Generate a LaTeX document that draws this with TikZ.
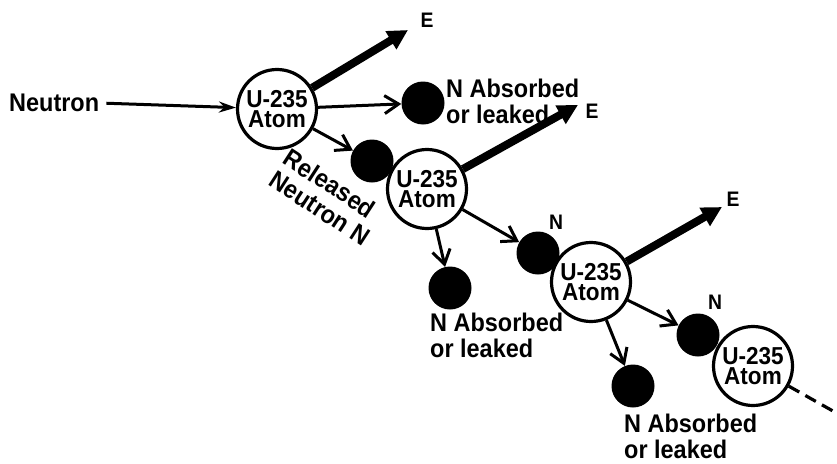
\documentclass[tikz,border=0pt]{standalone}
\usepackage{fontspec}
\setmainfont{Liberation Sans}[FakeStretch=0.92]
\usetikzlibrary{arrows.meta}
\begin{document}
\begin{tikzpicture}[x=1pt,y=-1pt,
  atom/.style={circle,draw,line width=3.2pt,fill=white,minimum size=79pt,inner sep=0pt,align=center,font=\bfseries\fontsize{24.5}{20}\selectfont},
  ball/.style={circle,fill=black,minimum size=43pt,inner sep=0pt},
  lab/.style={inner sep=0pt,align=left,font=\bfseries\fontsize{25.5}{26}\selectfont},
  smalllab/.style={inner sep=0pt,font=\bfseries\fontsize{21}{22}\selectfont},
  narrowarrow/.style={line width=3pt,-{Straight Barb[length=14pt,width=18pt,line width=3pt]}},
  feedarrow/.style={line width=3pt,-{Stealth[length=17pt,width=11pt]}},
  earrow/.style={line width=8pt,-{Triangle[length=20pt,width=20pt]}},
  tailline/.style={line width=3.2pt,dash pattern=on 12pt off 7pt},
]
\useasboundingbox (0,0) rectangle (837,463);
% atoms
\node[atom] (a1) at (277,109) {U-235\\Atom};
\node[atom] (a2) at (427,189) {U-235\\Atom};
\node[atom] (a3) at (591,282) {U-235\\Atom};
\node[atom] (a4) at (753,366) {U-235\\Atom};
% neutrons
\node[ball] (x1) at (423,103) {};
\node[ball] (r1) at (372,161) {};
\node[ball] (n2) at (538,253) {};
\node[ball] (x2) at (450,288) {};
\node[ball] (n3) at (698,335) {};
\node[ball] (x3) at (633,386) {};
% texts
\node[lab,anchor=west] (neutron) at (9,103) {Neutron};
\node[lab,anchor=north west] (t1) at (446,79) {N Absorbed\\or leaked};
\node[lab,anchor=north west] (t2) at (430,313) {N Absorbed\\or leaked};
\node[lab,anchor=north west] (t3) at (624,414) {N Absorbed\\or leaked};
\node[lab,rotate=-33] (rel) at (327,197) {Released\\Neutron N};
\node[smalllab] (nl2) at (556,222) {N};
\node[smalllab] (nl3) at (715,302) {N};
\node[smalllab] (E1) at (427,20) {E};
\node[smalllab] (E2) at (592,111) {E};
\node[smalllab] (E3) at (733,199) {E};
% E arrow tips
\coordinate (e1) at (408,30);
\coordinate (e2) at (578,105);
\coordinate (e3) at (722,207);
\coordinate (tail) at (840,415);
% connectors
\draw[feedarrow,shorten <=7pt] (neutron.east) -- (a1);
\draw[narrowarrow] (a1) -- (x1);
\draw[narrowarrow] (a1) -- (r1);
\draw[narrowarrow] (a2) -- (x2);
\draw[narrowarrow] (a2) -- (n2);
\draw[narrowarrow] (a3) -- (x3);
\draw[narrowarrow] (a3) -- (n3);
\draw[earrow] (a1) -- (e1);
\draw[earrow] (a2) -- (e2);
\draw[earrow] (a3) -- (e3);
\draw[tailline] (a4) -- (tail);
\end{tikzpicture}
\end{document}
